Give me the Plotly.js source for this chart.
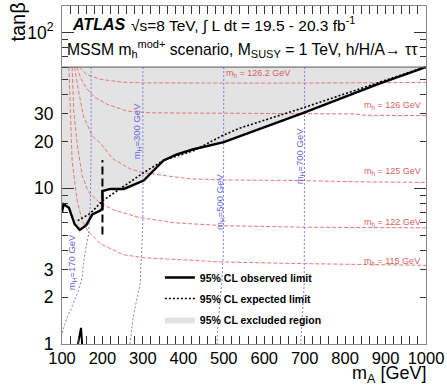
<!DOCTYPE html>
<html>
<head>
<meta charset="utf-8">
<script src="https://cdn.plot.ly/plotly-3.0.1.min.js"></script>
<style>html,body{margin:0;padding:0;background:#fff;}</style>
</head>
<body>
<div id="chart" style="width:447px;height:387px;"></div>
<script>
// ---- data ----
const tanbMax = 60;
const mA_obs   = [100,104,117,131,144,160,175,195,200,200,220,253,302,327,351,384,425,500,574,697,878,1000];
const tanb_obs = [7.0,7.9,7.5,5.9,5.4,5.8,6.8,7.2,7.4,9.6,9.9,9.9,11.2,13.1,15.1,16.5,17.8,19.8,23.3,30.5,46.3,60];
const mA_exp   = [139,170,200,302,351,425,500,541,697,879,997];
const tanb_exp = [6.2,6.9,8.3,12.6,15.1,17.4,22.0,24.4,32.9,47.2,60];
const mA_low   = [139,147,150];
const tanb_low = [0.98,1.27,0.98];
const mA_switch   = [200,200];
const tanb_switch = [5.05,15.2];

// m_h contours
const mh1262_x = [143,160,195,250,300,450,600,800,1000];
const mh1262_y = [60,54,50,48,47.5,47.3,47.3,47.5,47.8];
const mh126_x  = [137,146,160,180,212,261,318,450,600,825,850,1000];
const mh126_y  = [60,51,44,38.5,34.6,31.3,30.5,30.3,30.2,30.0,29.4,29.3];
const mh125_x  = [131,136,141,153,175,195,225,269,301,360,417,500,690,830,1000];
const mh125_y  = [60,50,42,29.1,21.6,19.5,15.5,13.3,12.6,12.0,11.5,11.3,11.2,11.0,10.9];
const mh122_x  = [125,129,137.5,150,165,190,225,290,380,500,700,1000];
const mh122_y  = [60,31.3,19.2,12,9.5,8.2,7.3,6.5,6.0,5.75,5.62,5.57];
const mh115_x  = [117,121,125,137.5,150,164,195,250,302,500,700,1000];
const mh115_y  = [60,24.4,15,8.3,6.2,5.3,4.4,3.75,3.58,3.36,3.28,3.2];

// m_H contours
const mH170_x = [172,172,170,166,158,154,150,141,121,113,100];
const mH170_y = [60,17,8,5.1,4,3.44,2.69,2.21,1.65,1.49,1.17];
const mH300_x = [300,300,297,293,276,268];
const mH300_y = [60,6,4,2.44,1.49,1.0];
const mH500_x = [500,500,499,495,487,483];
const mH500_y = [60,6,4,2.45,1.49,1.0];
const mH700_x = [700,700,700,699,694,690];
const mH700_y = [60,6,4,2.45,1.49,1.0];

const yTickVals  = [1,2,3,10,20,30,100];
const yTickText  = ['1','2','3','10','20','30','10<sup>2</sup>'];
const yMinorVals = [4,5,6,7,8,9,40,50,60,70,80,90];
const yMajorVals = [1,10,100];

const redLine = {color:'rgb(228,120,120)', width:1, dash:'4px,2px'};
const blueLine = {color:'rgb(125,125,230)', width:1, dash:'2px,2px'};
const redFont = {size:9, color:'rgb(215,95,95)'};
const blueFont = {size:9.5, color:'rgb(105,105,220)'};

const traces = [
  {x:mA_obs.concat([1000,100]), y:tanb_obs.concat([tanbMax,tanbMax]), type:'scatter', mode:'lines',
   fill:'toself', fillcolor:'#e3e3e3', line:{width:0}, name:'95% CL excluded region', legendrank:3,
   legendgroup:'c', hoverinfo:'skip'},
  {x:mh1262_x, y:mh1262_y, mode:'lines', line:redLine, showlegend:false},
  {x:mh126_x, y:mh126_y, mode:'lines', line:redLine, showlegend:false},
  {x:mh125_x, y:mh125_y, mode:'lines', line:redLine, showlegend:false},
  {x:mh122_x, y:mh122_y, mode:'lines', line:redLine, showlegend:false},
  {x:mh115_x, y:mh115_y, mode:'lines', line:redLine, showlegend:false},
  {x:mH170_x, y:mH170_y, mode:'lines', line:blueLine, showlegend:false},
  {x:mH300_x, y:mH300_y, mode:'lines', line:blueLine, showlegend:false},
  {x:mH500_x, y:mH500_y, mode:'lines', line:blueLine, showlegend:false},
  {x:mH700_x, y:mH700_y, mode:'lines', line:blueLine, showlegend:false},
  {x:mA_exp, y:tanb_exp, mode:'lines', line:{color:'black', width:1.6, dash:'2px,2px'}, name:'95% CL expected limit',
   legendrank:2, legendgroup:'b'},
  {x:mA_obs, y:tanb_obs, mode:'lines', line:{color:'black', width:2.4}, name:'95% CL observed limit',
   legendrank:1, legendgroup:'a'},
  {x:mA_low, y:tanb_low, mode:'lines', line:{color:'black', width:2}, showlegend:false},
  {x:mA_switch, y:tanb_switch, mode:'lines', line:{color:'black', width:2, dash:'8px,4px'}, showlegend:false},
  {x:[], y:[], yaxis:'y2', mode:'lines', showlegend:false, hoverinfo:'skip'}
];

const L = Math.log10;
const W = 364.5, H = 338, ML = 62, MT = 6;
const px = v => (v - ML) / W;
const py = v => 1 - (v - MT) / H;

const annotations = [
  {xref:'paper', yref:'paper', x:px(70), y:py(25), xanchor:'left', yanchor:'middle', showarrow:false,
   text:'<b><i>ATLAS</i></b>', font:{size:16}},
  {xref:'paper', yref:'paper', x:px(129), y:py(25), xanchor:'left', yanchor:'middle', showarrow:false,
   text:'√s=8 TeV, ∫ L dt = 19.5 - 20.3 fb<sup>-1</sup>', font:{size:15.5}},
  {xref:'paper', yref:'paper', x:px(65), y:py(49), xanchor:'left', yanchor:'middle', showarrow:false,
   text:'MSSM m<sub>h</sub><sup>mod+</sup> scenario, M<sub>SUSY</sub> = 1 TeV, h/H/A→ ττ', font:{size:15.7}},
  {xref:'paper', yref:'paper', x:px(17), y:py(1), xanchor:'center', yanchor:'top', showarrow:false,
   text:'tanβ', textangle:-90, font:{size:20}},
  {xref:'paper', yref:'paper', x:1.005, y:py(375), xanchor:'right', yanchor:'middle', showarrow:false,
   text:'m<sub>A</sub> [GeV]', font:{size:18}},
  // m_h labels
  {x:585, y:L(54.7), text:'m<sub>h</sub> = 126.2 GeV', showarrow:false, font:redFont},
  {x:916, y:L(34.2), text:'m<sub>h</sub> = 126 GeV', showarrow:false, font:redFont},
  {x:916, y:L(12.9), text:'m<sub>h</sub> = 125 GeV', showarrow:false, font:redFont},
  {x:916, y:L(6.0), text:'m<sub>h</sub> = 122 GeV', showarrow:false, font:redFont},
  {x:916, y:L(3.41), text:'m<sub>h</sub> = 115 GeV', showarrow:false, font:redFont},
  // m_H labels
  {x:286, y:L(23.3), text:'m<sub>H</sub>=300 GeV', textangle:-90, showarrow:false, font:blueFont},
  {x:489, y:L(8.2), text:'m<sub>H</sub>=500 GeV', textangle:-90, showarrow:false, font:blueFont},
  {x:689, y:L(16.1), text:'m<sub>H</sub>=700 GeV', textangle:-90, showarrow:false, font:blueFont},
  {x:127, y:L(3.34), text:'m<sub>H</sub>=170 GeV', textangle:-90, showarrow:false, font:blueFont}
];

const layout = {
  width:447, height:387,
  margin:{l:62, r:20.5, t:6, b:43, pad:0},
  paper_bgcolor:'white', plot_bgcolor:'white',
  font:{family:'Liberation Sans, Arial, sans-serif', color:'black'},
  showlegend:true,
  legend:{x:px(160), y:py(263), xanchor:'left', yanchor:'top', bgcolor:'rgba(0,0,0,0)', borderwidth:0,
          font:{size:10.5, weight:'bold'}, tracegroupgap:2, traceorder:'grouped', itemwidth:30},
  xaxis:{range:[100,1000], tickmode:'linear', tick0:100, dtick:100, ticks:'inside', ticklen:8, tickwidth:1,
         tickcolor:'#333', minor:{tick0:100, dtick:20, ticklen:4, ticks:'inside', tickcolor:'#333', tickwidth:1},
         mirror:'allticks', showline:true, linecolor:'#888', linewidth:1, showgrid:false, zeroline:false,
         tickfont:{size:16.5}, ticklabelstandoff:-1, fixedrange:true},
  yaxis:{type:'log', range:[0, Math.log10(148)], tickmode:'array', tickvals:yTickVals, ticktext:yTickText,
         ticks:'inside', ticklen:6, tickwidth:1, tickcolor:'#333', mirror:'allticks', showline:true,
         minor:{tickmode:'array', tickvals:yMinorVals, ticks:'inside', ticklen:6, tickwidth:1, tickcolor:'#333'},
         linecolor:'#888', linewidth:1, showgrid:false, zeroline:false, tickfont:{size:17.5}, ticklabelstandoff:4},
  yaxis2:{type:'log', overlaying:'y', range:[0, Math.log10(148)], tickmode:'array', tickvals:yMajorVals,
          showticklabels:false, ticks:'inside', ticklen:12, tickwidth:1, tickcolor:'#333', mirror:'allticks',
          showline:false, showgrid:false, zeroline:false},
  shapes:[{type:'line', xref:'paper', x0:0, x1:1, yref:'y', y0:tanbMax, y1:tanbMax, line:{color:'#555', width:1}}],
  annotations:annotations
};

Plotly.newPlot('chart', traces, layout, {staticPlot:true, displayModeBar:false});
</script>
</body>
</html>
